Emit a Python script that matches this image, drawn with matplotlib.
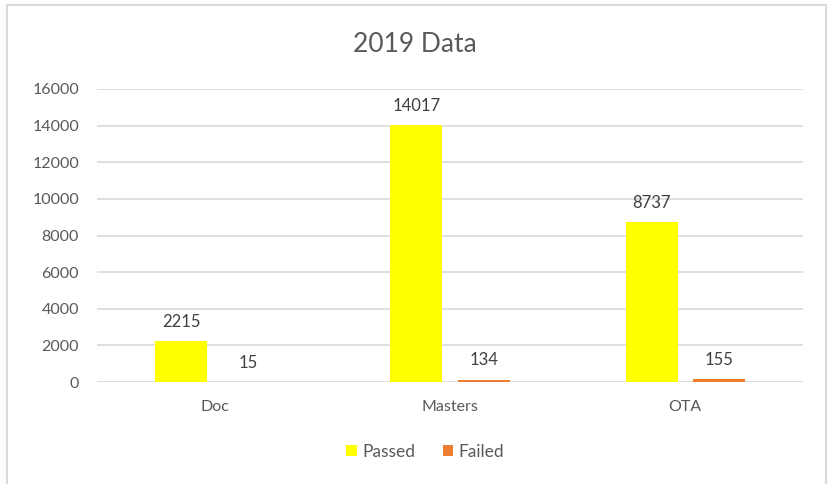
import numpy as np
import matplotlib.pyplot as plt
from matplotlib.patches import Rectangle

categories = ["Doc", "Masters", "OTA"]
passed = [2215, 14017, 8737]
failed = [15, 134, 155]
yticks = [0, 2000, 4000, 6000, 8000, 10000, 12000, 14000, 16000]

plt.rcParams['font.family'] = ['Lato', 'DejaVu Sans']
txt = "#595959"
grid = "#D9D9D9"

fig = plt.figure(figsize=(8.29, 4.84), dpi=100)
ax = fig.add_axes([97 / 829, 1 - 382 / 484, 706 / 829, 293 / 484])

x = np.arange(len(categories))
w = 0.221
off = 0.1425
b1 = ax.bar(x - off, passed, w, color="#FFFF00", label="Passed", zorder=3)
b2 = ax.bar(x + off, failed, w, color="#ED7D31", label="Failed", zorder=3)

for bars in (b1, b2):
    for r in bars:
        ax.annotate(f"{int(r.get_height())}", (r.get_x() + r.get_width() / 2, r.get_height()),
                    xytext=(0, 8), textcoords="offset points", ha="center", va="bottom",
                    fontsize=12, color="#404040")

ax.set_xlim(-0.5, 2.5)
ax.set_ylim(0, 16000)
ax.set_yticks(yticks)
ax.set_xticks(x)
ax.set_xticklabels(categories)
ax.tick_params(length=0, labelsize=11.5, labelcolor=txt)
ax.tick_params(axis="y", pad=13)
ax.tick_params(axis="x", pad=13)
ax.yaxis.grid(True, color=grid, linewidth=1.2, zorder=0)
for s in ax.spines.values():
    s.set_visible(False)
ax.axhline(0, color=grid, linewidth=1.2, zorder=2)

fig.text(0.5, 1 - 45 / 484, "2019 Data", ha="center", va="center", fontsize=19, color=txt)

fig.legend(handles=[b1, b2], loc="center", bbox_to_anchor=(0.513, 1 - 452 / 484), ncol=2,
           frameon=False, fontsize=12.5, labelcolor=txt, handlelength=0.6, handleheight=0.6,
           handletextpad=0.3, columnspacing=1.6)

fig.patches.append(Rectangle((7 / 829, -0.05), 819 / 829, 1.05 - 5 / 484, transform=fig.transFigure,
                             fill=False, edgecolor=grid, linewidth=1.5))

fig.savefig("out.png", dpi=100)
